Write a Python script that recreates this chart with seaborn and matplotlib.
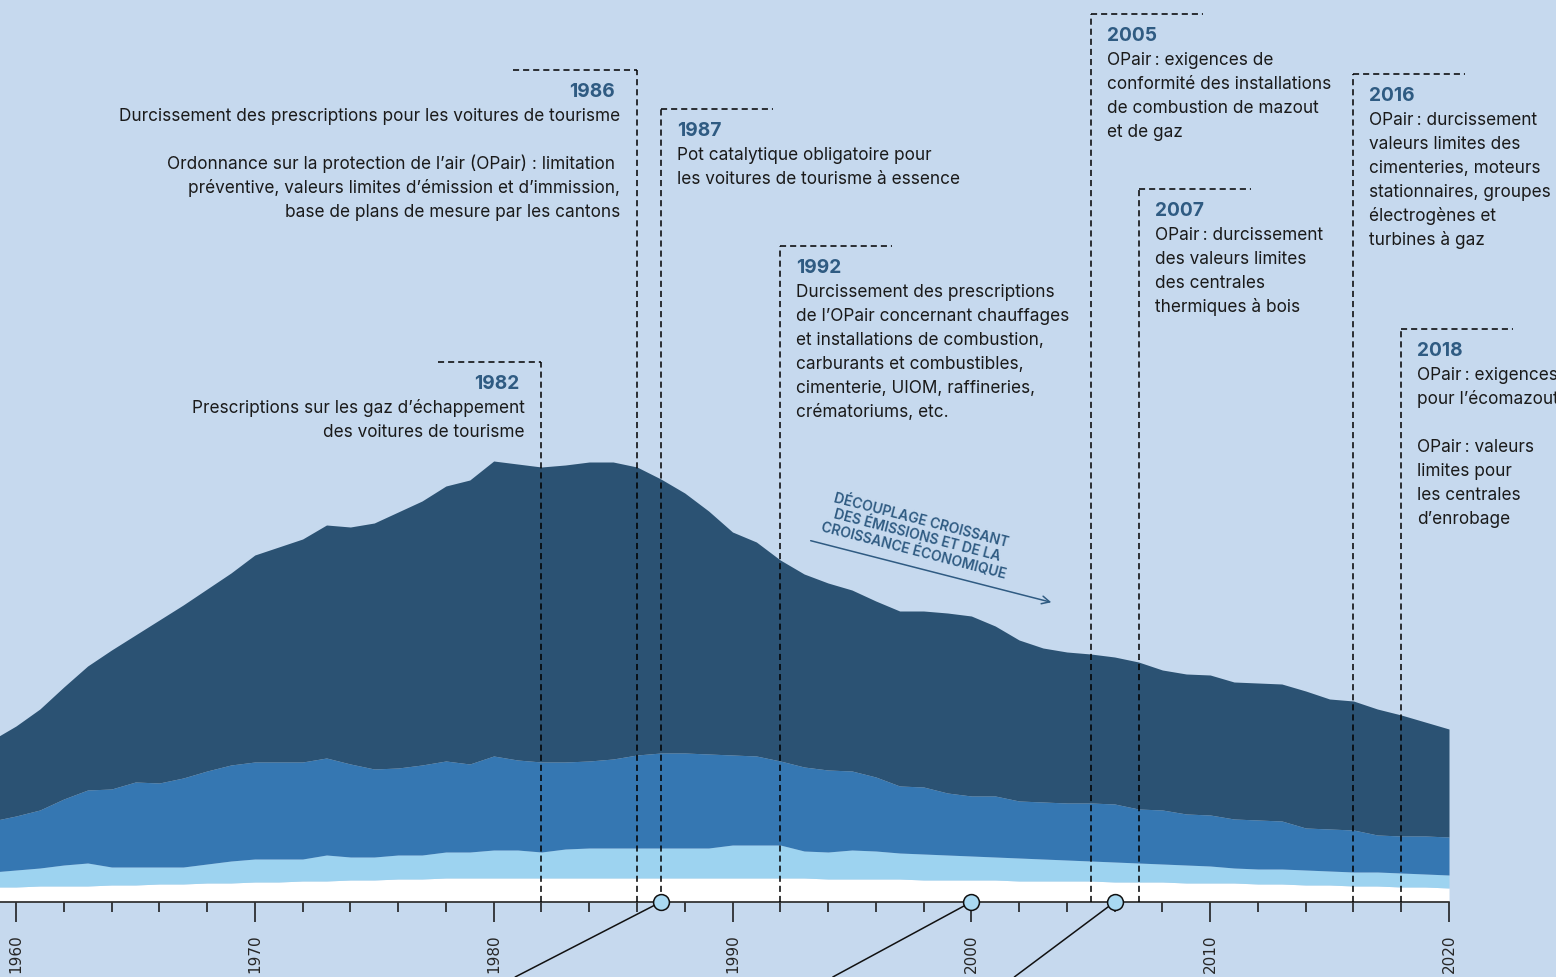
import numpy as np
import pandas as pd
import seaborn as sns
import matplotlib.pyplot as plt

# Emissions par année (hauteurs cumulées des couches, unités du graphique)
years = list(range(1959, 2021))
white_top = [15, 15, 16, 16, 16, 17, 17, 18, 18, 19,
             19, 20, 20, 21, 21, 22, 22, 23, 23, 24,
             24, 24, 24, 24, 24, 24, 24, 24, 24, 24,
             24, 24, 24, 24, 24, 23, 23, 23, 23, 22,
             22, 22, 22, 21, 21, 21, 21, 20, 20, 20,
             19, 19, 19, 18, 18, 17, 17, 16, 16, 15,
             15, 14]
light_top = [30, 32, 34, 37, 39, 35, 35, 35, 35, 38,
             41, 43, 43, 43, 47, 45, 45, 47, 47, 50,
             50, 52, 52, 50, 53, 54, 54, 54, 54, 54,
             54, 57, 57, 57, 51, 50, 52, 51, 49, 48,
             47, 46, 45, 44, 43, 42, 41, 40, 39, 38,
             37, 36, 34, 33, 33, 32, 31, 30, 30, 29,
             28, 27]
mid_top = [81, 86, 92, 103, 112, 113, 120, 119, 124, 131,
           137, 140, 140, 140, 144, 138, 133, 134, 137, 141,
           138, 146, 142, 140, 140, 141, 143, 147, 149, 149,
           148, 147, 146, 141, 135, 132, 131, 125, 116, 115,
           109, 106, 106, 101, 100, 99, 99, 98, 93, 92,
           88, 87, 83, 82, 81, 74, 73, 72, 67, 66,
           66, 65]
total_top = [162, 176, 193, 215, 236, 252, 267, 282, 297, 313,
             329, 347, 355, 363, 377, 375, 379, 390, 401, 416,
             422, 441, 438, 435, 437, 440, 440, 435, 423, 409,
             391, 370, 360, 342, 328, 319, 312, 301, 291, 291,
             289, 286, 276, 262, 254, 250, 248, 245, 240, 232,
             228, 227, 220, 219, 218, 211, 203, 201, 193, 187,
             180, 173]

# Jalons législatifs
event_years = [1982, 1986, 1987, 1992, 2005, 2007, 2016, 2018]
event_texts = [
    ["Prescriptions sur les gaz d’échappement", "des voitures de tourisme"],
    ["Durcissement des prescriptions pour les voitures de tourisme", "",
     "Ordonnance sur la protection de l’air (OPair) : limitation ",
     "préventive, valeurs limites d’émission et d’immission,",
     "base de plans de mesure par les cantons"],
    ["Pot catalytique obligatoire pour", "les voitures de tourisme à essence"],
    ["Durcissement des prescriptions", "de l’OPair concernant chauffages",
     "et installations de combustion,", "carburants et combustibles,",
     "cimenterie, UIOM, raffineries,", "crématoriums, etc."],
    ["OPair\u2009: exigences de", "conformité des installations",
     "de combustion de mazout", "et de gaz"],
    ["OPair\u2009: durcissement", "des valeurs limites", "des centrales",
     "thermiques à bois"],
    ["OPair\u2009: durcissement", "valeurs limites des", "cimenteries, moteurs",
     "stationnaires, groupes", "électrogènes et", "turbines à gaz"],
    ["OPair\u2009: exigences", "pour l’écomazout", "", "OPair\u2009: valeurs",
     "limites pour", "les centrales", "d’enrobage"],
]
marker_years = [1987, 2000, 2006]
marker_targets = [1980.9, 1994.2, 2001.8]

df = pd.DataFrame({'annee': years, 'blanc': white_top, 'clair': light_top,
                   'moyen': mid_top, 'total': total_top})

bg = '#C6D9EE'
sns.set_style('white')
plt.rcParams['font.family'] = ['Inter', 'DejaVu Sans']

fig = plt.figure(figsize=(15.56, 9.78), dpi=100)
fig.patch.set_facecolor(bg)
ax = fig.add_axes([0, 0, 1, 1])
ax.set_facecolor(bg)

ppy = (1449 - 16) / 60  # pixels par année
ax.set_xlim(1960 - 16 / ppy, 1960 + (1556 - 16) / ppy)
ax.set_ylim(-75, 903)

ax.fill_between(df['annee'], 0, df['blanc'], color='white', lw=0)
ax.fill_between(df['annee'], df['blanc'], df['clair'], color='#9DD3F0', lw=0)
ax.fill_between(df['annee'], df['clair'], df['moyen'], color='#3577B2', lw=0)
ax.fill_between(df['annee'], df['moyen'], df['total'], color='#2B5273', lw=0)

# axe du temps
for s in ['left', 'right', 'top']:
    ax.spines[s].set_visible(False)
ax.spines['bottom'].set_position(('data', 0))
ax.spines['bottom'].set_bounds(ax.get_xlim()[0], 2020)
ax.spines['bottom'].set_linewidth(1.1)
ax.spines['bottom'].set_color('#111111')
ax.set_yticks([])
ax.set_xticks(range(1960, 2021, 10))
ax.set_xticks(range(1960, 2021, 2), minor=True)
ax.tick_params(axis='x', which='major', bottom=True, length=14.4, width=1.1,
               pad=8, labelrotation=90, labelsize=11, color='#111111',
               direction='out')
ax.tick_params(axis='x', which='minor', bottom=True, length=7.2, width=1.1,
               color='#111111', direction='out')
for lab in ax.get_xticklabels():
    lab.set_family('DejaVu Sans')

# jalons
year_col = '#2F5B82'
txt_col = '#1A1A1A'
tops = [363, 71, 110, 247, 15, 190, 75, 330]
sides = ['left', 'left', 'right', 'right', 'right', 'right', 'right', 'right']
dash = (0, (4, 2.6))
for yr, lines, top, side in zip(event_years, event_texts, tops, sides):
    y_top = 903 - top
    ax.plot([yr, yr], [0, y_top], color='black', lw=1.1, ls=dash, zorder=5)
    if side == 'left':
        ax.plot([yr - (124 if yr == 1986 else 103) / ppy, yr], [y_top, y_top],
                color='black', lw=1.1, ls=dash, zorder=5)
        tx, ha = yr - 17 / ppy, 'right'
        ty = tx - 5 / ppy
    else:
        ax.plot([yr, yr + 112 / ppy], [y_top, y_top], color='black', lw=1.1,
                ls=dash, zorder=5)
        tx, ha = yr + 16 / ppy, 'left'
        ty = tx
    ax.text(ty, y_top - 26, str(yr), ha=ha, va='baseline', fontsize=13.8,
            fontweight='bold', color=year_col)
    for i, line in enumerate(lines):
        ax.text(tx, y_top - 50 - 24 * i, line, ha=ha, va='baseline',
                fontsize=12.4, color=txt_col)

# découplage
ax.text(1960 + (917 - 16) / ppy, 903 - 536,
        'DÉCOUPLAGE CROISSANT\nDES ÉMISSIONS ET DE LA\nCROISSANCE ÉCONOMIQUE',
        rotation=-14.5, ha='center', va='center', multialignment='center',
        fontsize=10, fontweight='semibold', color=year_col, linespacing=1.1)
ax.annotate('', xy=(1960 + (1054 - 16) / ppy, 903 - 604),
            xytext=(1960 + (808 - 16) / ppy, 903 - 541),
            arrowprops=dict(arrowstyle='->', color=year_col, lw=1.1,
                            mutation_scale=14))

# repères sur l'axe
for yr, tgt in zip(marker_years, marker_targets):
    ax.plot([yr, tgt], [0, -75], color='#111111', lw=1.1, zorder=6, clip_on=False)
sns.scatterplot(x=marker_years, y=[0] * len(marker_years), ax=ax, s=130,
                color='#A9D9F2', edgecolor='#111111', linewidth=1.1, zorder=7,
                clip_on=False, legend=False)

fig.savefig('out.png', dpi=100, facecolor=bg)
